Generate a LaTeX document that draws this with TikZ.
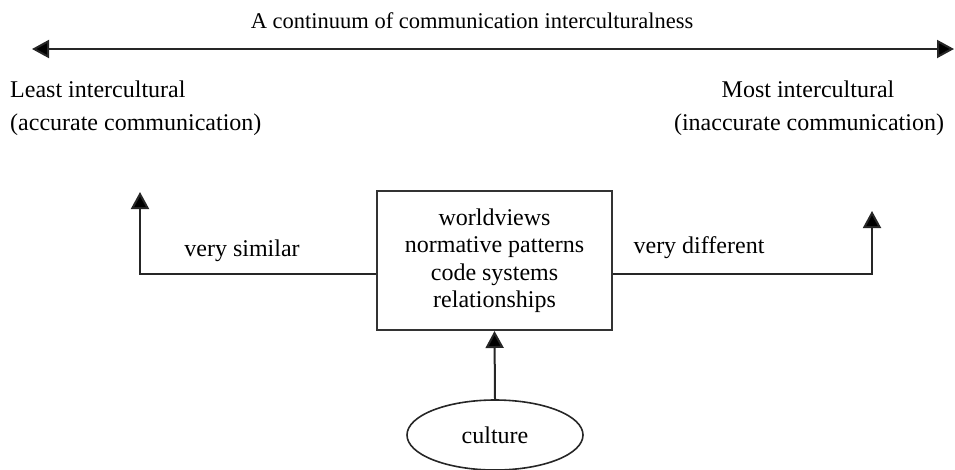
\documentclass[tikz,border=0pt]{standalone}
\usepackage{fontspec}
\setmainfont{Liberation Serif}
\usetikzlibrary{arrows.meta,shapes.geometric}
\begin{document}
\begin{tikzpicture}[x=1pt,y=-1pt,
  every node/.style={font=\fontsize{24}{27.5}\selectfont, inner sep=0pt},
  label/.style={anchor=base},
  conn/.style={line width=2pt, draw=black!85, -{Triangle[length=17pt,width=18pt,fill=black]}},
  factorbox/.style={draw=black!80, line width=2pt, minimum width=235pt, minimum height=139pt, align=center},
  source/.style={draw=black!85, line width=1.6pt, ellipse, minimum width=176pt, minimum height=70pt}
]
\useasboundingbox (0,0) rectangle (955,469);

% continuum
\node[label, font=\fontsize{22.5}{27}\selectfont] (title) at (472,28) {A continuum of communication interculturalness};
\coordinate (cl) at (32,49);
\coordinate (cr) at (954,49);
\draw[line width=2pt, draw=black!85, {Triangle[length=17pt,width=18pt,fill=black]}-{Triangle[length=17pt,width=18pt,fill=black]}] (cl) -- (cr);

% end labels
\node[label, anchor=base west] (least) at (10,97) {Least intercultural};
\node[label, anchor=base west] (accurate) at (10,130) {(accurate communication)};
\node[label] (most) at (808,97) {Most intercultural};
\node[label] (inaccurate) at (809,130) {(inaccurate communication)};

% cultural factors
\node[factorbox] (box) at (494.5,260.5) {worldviews\\normative patterns\\code systems\\relationships};
\node[source] (culture) at (495,435) {culture};

\coordinate (sl) at (140,192);
\coordinate (sr) at (872,211);
\draw[conn] ([yshift=-13.5pt]box.west) -| (sl);
\draw[conn] ([yshift=-13.5pt]box.east) -| (sr);
\draw[conn] (culture.north) -- (box.south);

\node[label] (similar) at (242,256) {very similar};
\node[label] (different) at (699,253) {very different};
\end{tikzpicture}
\end{document}
